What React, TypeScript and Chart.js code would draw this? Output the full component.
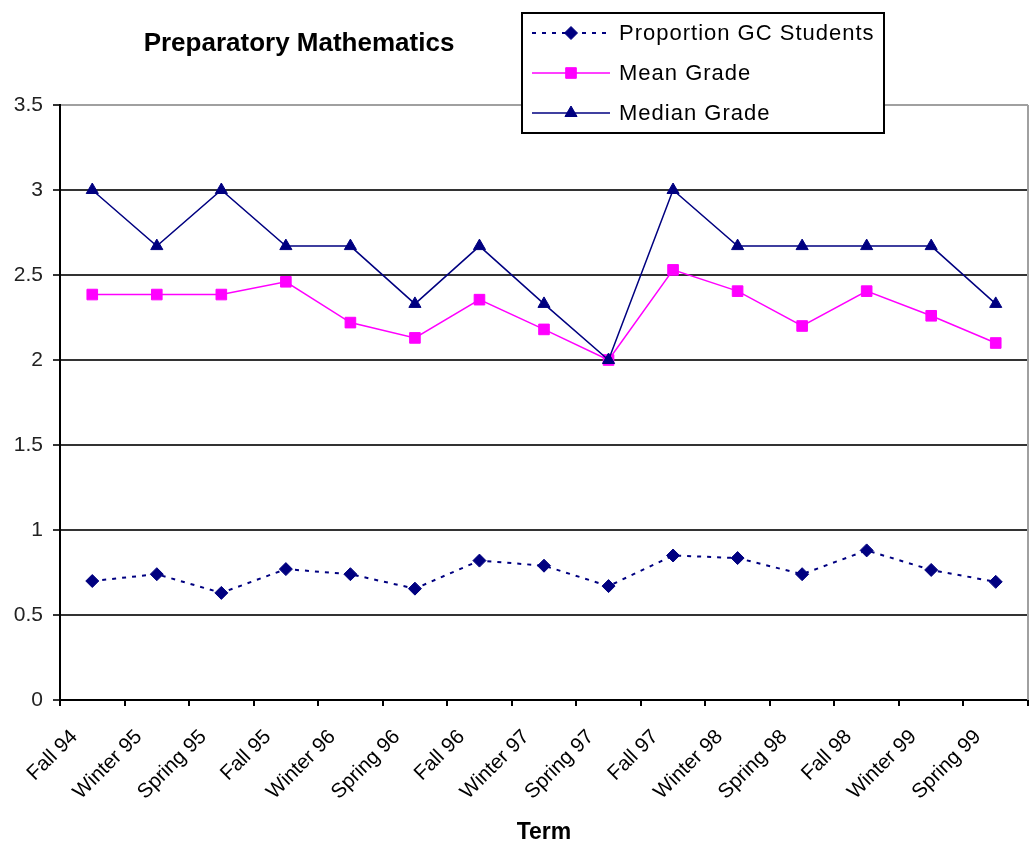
import React, { useEffect, useRef } from 'react';
import { Chart, registerables } from 'chart.js';

Chart.register(...registerables);

const chartTitle = 'Preparatory Mathematics';
const axisTitle = 'Term';
const terms = [
  'Fall 94', 'Winter 95', 'Spring 95', 'Fall 95', 'Winter 96', 'Spring 96', 'Fall 96', 'Winter 97',
  'Spring 97', 'Fall 97', 'Winter 98', 'Spring 98', 'Fall 98', 'Winter 99', 'Spring 99',
];
const proportionGC = [0.70, 0.74, 0.63, 0.77, 0.74, 0.655, 0.82, 0.79, 0.67, 0.85, 0.835, 0.74, 0.88, 0.765, 0.695];
const meanGrade = [2.385, 2.385, 2.385, 2.46, 2.22, 2.13, 2.355, 2.18, 2.0, 2.53, 2.405, 2.2, 2.405, 2.26, 2.1];
const medianGrade = [3, 2.67, 3, 2.67, 2.67, 2.33, 2.67, 2.33, 2, 3, 2.67, 2.67, 2.67, 2.67, 2.33];
const yTicks = [0, 0.5, 1, 1.5, 2, 2.5, 3, 3.5];
const seriesNames = ['Proportion GC Students', 'Mean Grade', 'Median Grade'];

const FAMILY = '"Liberation Sans", Arial, sans-serif';
const NAVY = '#000080';
const MAGENTA = '#FF00FF';

function drawMarker(ctx: CanvasRenderingContext2D, style: string, x: number, y: number, r: number, color: string) {
  ctx.save();
  ctx.fillStyle = color;
  ctx.strokeStyle = color;
  ctx.lineWidth = 1;
  ctx.setLineDash([]);
  ctx.beginPath();
  if (style === 'rectRot') {
    ctx.moveTo(x, y - r);
    ctx.lineTo(x + r, y);
    ctx.lineTo(x, y + r);
    ctx.lineTo(x - r, y);
  } else if (style === 'rect') {
    const s = r * Math.SQRT1_2;
    ctx.rect(x - s, y - s, 2 * s, 2 * s);
  } else {
    const h = r * Math.sqrt(3) / 2;
    ctx.moveTo(x, y - r);
    ctx.lineTo(x + h, y + r / 2);
    ctx.lineTo(x - h, y + r / 2);
  }
  ctx.closePath();
  ctx.fill();
  ctx.stroke();
  ctx.restore();
}

const overlayPlugin = {
  id: 'overlay',
  afterDraw(chart: any) {
    const ctx: CanvasRenderingContext2D = chart.ctx;
    const a = chart.chartArea;
    ctx.save();
    // right border of plot area
    ctx.strokeStyle = '#a0a0a0';
    ctx.lineWidth = 2;
    ctx.beginPath();
    ctx.moveTo(a.right, a.top);
    ctx.lineTo(a.right, a.bottom);
    ctx.stroke();

    // chart title
    ctx.fillStyle = '#000';
    ctx.font = `bold 26px ${FAMILY}`;
    ctx.textAlign = 'center';
    ctx.textBaseline = 'middle';
    ctx.fillText(chartTitle, 299, 44);

    // legend box
    const bx = 522, by = 13, bw = 362, bh = 120;
    ctx.fillStyle = '#fff';
    ctx.fillRect(bx, by, bw, bh);
    ctx.strokeStyle = '#000';
    ctx.lineWidth = 2;
    ctx.strokeRect(bx, by, bw, bh);

    ctx.font = `22px ${FAMILY}`;
    ctx.textAlign = 'left';
    ctx.textBaseline = 'middle';
    (ctx as any).letterSpacing = '1px';
    chart.data.datasets.forEach((ds: any, i: number) => {
      const y = 33 + i * 40;
      ctx.save();
      ctx.strokeStyle = ds.borderColor;
      ctx.lineWidth = ds.borderWidth;
      ctx.setLineDash(ds.borderDash || []);
      ctx.beginPath();
      ctx.moveTo(532, y);
      ctx.lineTo(610, y);
      ctx.stroke();
      ctx.restore();
      drawMarker(ctx, ds.pointStyle, 571, y, ds.pointRadius, ds.pointBackgroundColor);
      ctx.fillStyle = '#000';
      ctx.fillText(ds.label, 619, y + 1);
    });
    (ctx as any).letterSpacing = '0px';
    ctx.restore();
  },
};

export default function App() {
  const canvasRef = useRef<HTMLCanvasElement | null>(null);

  useEffect(() => {
    const canvas = canvasRef.current;
    if (!canvas) return;
    const chart = new Chart(canvas, {
      type: 'line',
      data: {
        labels: terms,
        datasets: [
          {
            label: seriesNames[0],
            data: proportionGC,
            borderColor: NAVY,
            borderWidth: 2,
            borderDash: [4, 6],
            pointStyle: 'rectRot',
            pointRadius: 6.5,
            pointBackgroundColor: NAVY,
            pointBorderColor: NAVY,
            pointBorderWidth: 1,
            tension: 0,
            order: 3,
          },
          {
            label: seriesNames[1],
            data: meanGrade,
            borderColor: MAGENTA,
            borderWidth: 1.5,
            pointStyle: 'rect',
            pointRadius: 7.5,
            pointBackgroundColor: MAGENTA,
            pointBorderColor: MAGENTA,
            pointBorderWidth: 1,
            tension: 0,
            order: 2,
          },
          {
            label: seriesNames[2],
            data: medianGrade,
            borderColor: NAVY,
            borderWidth: 1.5,
            pointStyle: 'triangle',
            pointRadius: 7,
            pointBackgroundColor: NAVY,
            pointBorderColor: NAVY,
            pointBorderWidth: 1,
            tension: 0,
            order: 1,
          },
        ] as any,
      },
      options: {
        animation: false,
        responsive: true,
        maintainAspectRatio: false,
        layout: { autoPadding: false, padding: { top: 105, right: 1, bottom: 0, left: 0 } },
        plugins: {
          legend: { display: false },
          title: { display: false },
          tooltip: { enabled: false },
        },
        scales: {
          x: {
            offset: true,
            afterFit: (s: any) => { s.height = 146; s.paddingRight = 0; s.paddingLeft = 0; },
            ticks: {
              autoSkip: false,
              minRotation: 45,
              maxRotation: 45,
              font: { family: FAMILY, size: 20.5 },
              color: '#000',
              padding: 19,
              labelOffset: -18,
            },
            grid: {
              offset: true,
              drawOnChartArea: false,
              tickLength: 6,
              color: '#000',
              lineWidth: 2,
            },
            border: { color: '#000', width: 2 },
            title: {
              display: true,
              text: axisTitle,
              font: { family: FAMILY, size: 23, weight: 'bold' },
              color: '#000',
              padding: 0,
            },
          },
          y: {
            min: 0,
            max: 3.5,
            afterFit: (s: any) => { s.width = 60; },
            afterBuildTicks: (s: any) => { s.ticks = yTicks.map((v) => ({ value: v })); },
            ticks: {
              font: { family: FAMILY, size: 21 },
              color: '#222',
              padding: 10,
              callback: (v: any) => String(v),
            },
            grid: {
              color: (c: any) => (c.tick && c.tick.value === 3.5 ? '#a0a0a0' : '#333'),
              tickColor: '#333',
              lineWidth: 2,
              tickLength: 7,
            },
            border: { color: '#000', width: 2 },
          },
        },
      } as any,
      plugins: [overlayPlugin],
    });
    return () => chart.destroy();
  }, []);

  return (
    <div style={{ position: 'absolute', left: 0, top: 0, width: 1029, height: 846, background: '#fff' }}>
      <canvas ref={canvasRef} />
    </div>
  );
}
